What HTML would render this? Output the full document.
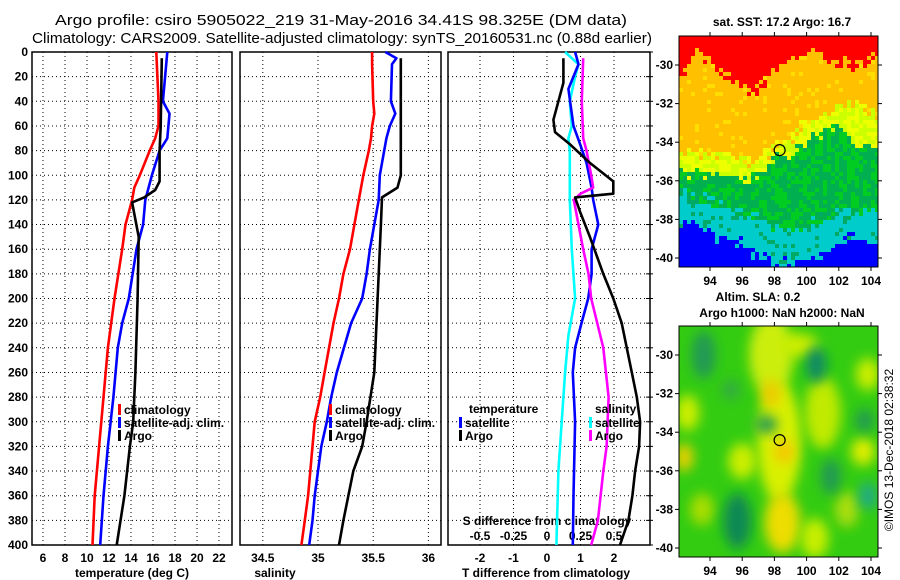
<!DOCTYPE html>
<html><head><meta charset="utf-8"><style>
html,body{margin:0;padding:0;background:#fff;}
svg{display:block;font-family:"Liberation Sans",sans-serif;}
.tk{font-size:12px;font-weight:bold;}
.lg{font-size:12px;font-weight:bold;}
</style></head><body>
<svg id="fig" width="900" height="580" viewBox="0 0 900 580" xmlns="http://www.w3.org/2000/svg">
<defs><filter id="bl" x="-50%" y="-50%" width="200%" height="200%"><feGaussianBlur stdDeviation="6"/></filter>
<clipPath id="cm2"><rect x="679" y="326" width="199" height="231"/></clipPath></defs>
<text x="55" y="25" font-size="15" textLength="572" lengthAdjust="spacingAndGlyphs">Argo profile: csiro 5905022_219 31-May-2016 34.41S 98.325E (DM data)</text>
<text x="32" y="43" font-size="15" textLength="620" lengthAdjust="spacingAndGlyphs">Climatology: CARS2009. Satellite-adjusted climatology: synTS_20160531.nc (0.88d earlier)</text>
<g id="g"></g>
</svg>
<script>
// temperature profiles (deg C)
const tDepth=[0,20,40,50,60,70,80,100,110,120,140,160,200,220,240,280,320,360,400];
const tClim=[16.3,16.4,16.5,16.5,16.5,16.2,15.7,14.8,14.3,14.1,13.5,13.2,12.5,12.2,11.9,11.5,11.1,10.7,10.5];
const tSat=[17.3,17.1,16.9,17.5,17.4,17.3,16.6,15.9,15.6,15.3,15.1,14.5,13.8,13.2,12.8,12.4,11.9,11.5,11.2];
const tArgoD=[5,60,80,105,112,118,122,150,200,260,300,320,360,400];
const tArgo=[16.8,16.7,16.6,16.6,16.2,15.2,14.1,14.7,14.6,14.4,14.2,13.9,13.4,12.7];
// salinity profiles
const sDepth=[0,5,10,40,50,60,70,80,100,120,160,180,200,220,260,280,300,320,340,360,380,400];
const sClim=[35.49,35.49,35.49,35.50,35.51,35.49,35.48,35.46,35.41,35.37,35.29,35.23,35.19,35.14,35.06,35.02,34.97,34.95,34.93,34.91,34.88,34.85];
const sSat=[35.61,35.71,35.67,35.66,35.70,35.65,35.62,35.60,35.56,35.55,35.47,35.44,35.40,35.30,35.17,35.12,35.08,35.03,35.00,34.97,34.95,34.92];
const sArgoD=[5,100,110,118,140,200,260,300,320,340,380,400];
const sArgo=[35.75,35.75,35.72,35.58,35.57,35.54,35.51,35.44,35.40,35.32,35.23,35.19];
// differences from climatology
const dTSatD=[0,10,30,60,75,90,110,120,140,160,180,200,220,240,260,300,360,400];
const dTSat=[0.84,0.94,0.64,0.79,0.99,1.18,1.33,1.38,1.53,1.33,1.33,1.23,1.03,0.84,0.77,0.84,0.79,0.77];
const dTArgoD=[5,25,40,55,65,75,90,105,115,118,130,150,180,200,220,260,280,300,320,340,360,380,400];
const dTArgo=[0.49,0.49,0.34,0.19,0.24,0.69,1.28,1.98,1.98,0.84,0.99,1.28,1.68,1.98,2.23,2.53,2.68,2.78,2.75,2.63,2.55,2.43,2.18];
const dSSatD=[0,10,20,40,60,70,80,100,120,160,200,230,260,300,340,400];
const dSSat=[0.135,0.235,0.21,0.17,0.185,0.16,0.17,0.17,0.17,0.185,0.21,0.16,0.135,0.11,0.085,0.07];
const dSArgoD=[5,40,70,80,100,110,115,120,140,160,180,200,240,280,320,340,380,400];
const dSArgo=[0.27,0.26,0.27,0.295,0.33,0.345,0.25,0.2,0.235,0.27,0.31,0.33,0.42,0.46,0.445,0.42,0.38,0.33];
const tTicks=[6,8,10,12,14,16,18,20,22];
const sTicks=[34.5,35,35.5,36];
const dTicks=[-2,-1,0,1,2];
const dsTicks=[-0.5,-0.25,0,0.25,0.5];
const dsLabels=['-0.5','-0.25','0','0.25','0.5'];
const depthTicks=[0,20,40,60,80,100,120,140,160,180,200,220,240,260,280,300,320,340,360,380,400];

const NS='http://www.w3.org/2000/svg';
const G=document.getElementById('g');
function mk(tag,at,parent){const e=document.createElementNS(NS,tag);for(const k in at)e.setAttribute(k,at[k]);(parent||G).appendChild(e);return e;}
const Y0=52,Y1=545;
const yD=d=>Y0+d*(Y1-Y0)/400;
const xT=v=>43+(v-6)*11;
const xS=v=>318+(v-35)*110.4;
const xDT=v=>547+v*33.5;
const xDS=v=>547+v*4*33.5;
const panels=[[32,232],[240,441],[448,650]];

panels.forEach((p,i)=>{
  const r=mk('rect',{x:p[0],y:Y0,width:p[1]-p[0],height:Y1-Y0,fill:'#fff',stroke:'#000','stroke-width':1.5});
  
  
  depthTicks.forEach(d=>{
    if(d>0&&d<400){const l=mk('line',{x1:p[0],x2:p[1],y1:yD(d),y2:yD(d),stroke:'#000','stroke-dasharray':'1,3','stroke-width':1});
    
    }
  });
});
depthTicks.forEach(d=>{
  const t=mk('text',{x:28,y:yD(d)+4,'text-anchor':'end',class:'tk'});t.textContent=d;
  
  
  const k=mk('line',{x1:646,x2:653,y1:yD(d),y2:yD(d),stroke:'#000'});
  
  
});
function xgrid(ticks,fx,labels,ly,nm){
  ticks.forEach((v,i)=>{const x=fx(v);
    const l=mk('line',{x1:x,x2:x,y1:Y0,y2:Y1,stroke:'#000','stroke-dasharray':'1,3'});
    
    
    const t=mk('text',{x:x,y:ly,'text-anchor':'middle',class:'tk'});t.textContent=labels?labels[i]:v;
    
    
  });
}
xgrid(tTicks,xT,null,562,'temperature');
xgrid(sTicks,xS,null,562,'salinity');
xgrid(dTicks,xDT,null,562,'t-diff');
dsTicks.forEach((v,i)=>{const t=mk('text',{x:xDS(v),y:540,'text-anchor':'middle',class:'tk'});t.textContent=dsLabels[i];
  
  });
[['temperature (deg C)',132,'x-axis-title-temperature'],['salinity',275,'x-axis-title-salinity'],['T difference from climatology',546,'x-axis-title-t-diff']].forEach(a=>{
  const t=mk('text',{x:a[1],y:577,'text-anchor':'middle',class:'tk'});t.textContent=a[0];
  
  });
{const t=mk('text',{x:547,y:525,'text-anchor':'middle',class:'tk'});t.textContent='S difference from climatology';
 
 }

function line(ds,vs,fx,col,nm){
  const pts=ds.map((d,i)=>fx(vs[i]).toFixed(1)+','+yD(d).toFixed(1)).join(' ');
  const p=mk('polyline',{points:pts,fill:'none',stroke:col,'stroke-width':2.6,'stroke-linejoin':'round'});
  
  
}
line(tDepth,tClim,xT,'#ff0000','temperature-climatology-line');
line(tDepth,tSat,xT,'#0000ff','temperature-satellite-line');
line(tArgoD,tArgo,xT,'#000','temperature-argo-line');
line(sDepth,sClim,xS,'#ff0000','salinity-climatology-line');
line(sDepth,sSat,xS,'#0000ff','salinity-satellite-line');
line(sArgoD,sArgo,xS,'#000','salinity-argo-line');
line(dSSatD,dSSat,xDS,'#00ffff','s-diff-satellite-line');
line(dTSatD,dTSat,xDT,'#0000ff','t-diff-satellite-line');
line(dSArgoD,dSArgo,xDS,'#ff00ff','s-diff-argo-line');
line(dTArgoD,dTArgo,xDT,'#000','t-diff-argo-line');

function leg(x,y,col,txt,nm){
  const r=mk('rect',{x:x,y:y-9,width:3,height:11,fill:col});
  
  
  const t=mk('text',{x:x+6,y:y+1,class:'lg'});t.textContent=txt;
  
  
}
leg(118,413,'#ff0000','climatology','legend-entry-climatology');
leg(118,426,'#0000ff','satellite-adj. clim.','legend-entry-satellite-adj');
leg(118,439,'#000','Argo','legend-entry-argo');
leg(329,413,'#ff0000','climatology','legend-entry-s-climatology');
leg(329,426,'#0000ff','satellite-adj. clim.','legend-entry-s-satellite-adj');
leg(329,439,'#000','Argo','legend-entry-s-argo');
{const t=mk('text',{x:469,y:413,class:'lg'});t.textContent='temperature';
 
 const u=mk('text',{x:595,y:413,class:'lg'});u.textContent='salinity';
 }
leg(459,426,'#0000ff','satellite','legend-entry-t-satellite');
leg(459,439,'#000','Argo','legend-entry-t-argo');
leg(589,426,'#00ffff','satellite','legend-entry-s-satellite');
leg(589,439,'#ff00ff','Argo','legend-entry-s-argo-diff');

// ---- maps ----
const MX0=679,MX1=878;
const lonX=l=>710+(l-94)*16.1;
const latY=(la,top)=>top+(65-36)+(-30-la)*19.3;
const bLon=[92.3,93,94,95,96,96.5,97,98,99,100,101,102,103,104,104.5];
const bRed=[-30.5,-29.4,-29.6,-30.6,-31.2,-31.5,-31.2,-30.3,-29.8,-29.4,-29.6,-29.8,-30.1,-29.6,-29.4];
const bOra=[-34.7,-34.7,-34.5,-34.6,-35,-35,-35,-34.3,-33.8,-33,-32.8,-31.9,-32,-32.5,-32.5];
const bYel=[-35.6,-35.6,-35.6,-35.7,-35.9,-35.9,-35.8,-34.9,-34.6,-34,-33.5,-33,-34.2,-34.2,-34.2];
const bGrn=[-36.5,-36.8,-37,-37.5,-37.8,-37.8,-37.8,-38.5,-38.5,-38.3,-38,-37.5,-37.8,-37.7,-37.7];
const bTea=[-38.3,-38.2,-38.8,-39,-39.3,-39.6,-39.9,-40.3,-40.3,-40.2,-39.8,-39.3,-38.8,-39.3,-39.3];
function interp(xs,ys,x){for(let i=0;i<xs.length-1;i++){if(x<=xs[i+1]){const f=(x-xs[i])/(xs[i+1]-xs[i]);return ys[i]+f*(ys[i+1]-ys[i]);}}return ys[ys.length-1];}
function hsh(i,j){let h=(i*374761393+j*668265263)>>>0;h=((h^(h>>>13))*1274126177)>>>0;return (h%1000)/1000;}
const mapG=mk('g',{});


const cs=4;
for(let i=0;i*cs<MX1-MX0;i++){
  for(let j=0;j*cs<231;j++){
    const px=MX0+i*cs+2, py=36+j*cs+2;
    const lon=94+(px-710)/16.1, lat=-30-(py-65)/19.3;
    const n=(hsh(i,j)-0.5)*0.7;
    const L=lat+n;
    let c;
    if(L>interp(bLon,bRed,lon))c='#ff0000';
    else if(L>interp(bLon,bOra,lon))c=(hsh(j,i)>0.9?'#ffdd00':'#ffc000');
    else if(L>interp(bLon,bYel,lon))c=(hsh(j,i)>0.5?'#ccff00':'#eeff00');
    else if(L>interp(bLon,bGrn,lon))c=(hsh(j,i)>0.45?'#00b050':'#00cc22');
    else if(L>interp(bLon,bTea,lon))c=(hsh(j,i)>0.85?'#00aa66':'#00cccc');
    else c='#0000ff';
    const w=Math.min(cs,MX1-(MX0+i*cs)),h=Math.min(cs,267-(36+j*cs));
    mk('rect',{x:MX0+i*cs,y:36+j*cs,width:w,height:h,fill:c},mapG);
  }
}
// SLA map
const sla=mk('g',{'clip-path':'url(#cm2)'});


mk('rect',{x:MX0,y:326,width:199,height:231,fill:'#33cc11'},sla);
const blobs=[[97.8,-30,22,40,'#ccee11'],[98.3,-34.5,22,60,'#d8f000'],[98.5,-38.7,18,30,'#eedd00'],[97.8,-32,10,14,'#eecc00'],[98.6,-35,10,12,'#f5c800'],
[92.6,-33,12,18,'#ccee00'],[92.4,-35.3,9,14,'#eed000'],[103.8,-31,12,16,'#ccee00'],[103.5,-35,12,14,'#e0ee00'],[101,-33,18,36,'#c0ea00'],
[96,-35.5,14,18,'#ccee00'],[100.5,-39.5,14,20,'#c8ee00'],[93.5,-38,12,16,'#aadd00'],[99.5,-29.5,20,12,'#ccee00'],[102.5,-38,12,18,'#aadd11'],
[93.6,-30,12,24,'#229955'],[95.7,-38.6,14,28,'#118855'],[100.6,-30.5,10,18,'#118866'],[101.5,-36.3,10,18,'#229955'],[103.8,-37.3,9,14,'#22aa88'],[103.6,-33.4,9,12,'#229955'],[97.5,-33.6,11,9,'#229955'],[95.3,-31.8,9,10,'#33aa44']];
blobs.forEach(b=>{const e=mk('ellipse',{cx:lonX(b[0]),cy:latY(b[1],326),rx:b[2],ry:b[3],fill:b[4],filter:'url(#bl)'},sla);
  
  });
[36,326].forEach((top,k)=>{
  const r=mk('rect',{x:MX0,y:top,width:MX1-MX0,height:231,fill:'none',stroke:'#000','stroke-width':1});
  
  
  const c=mk('circle',{cx:lonX(98.325),cy:latY(-34.41,top),r:5.5,fill:'none',stroke:'#000','stroke-width':1.2});
  
  
  [-30,-32,-34,-36,-38,-40].forEach(la=>{const y=latY(la,top);
    mk('line',{x1:MX0-4,x2:MX0,y1:y,y2:y,stroke:'#000'});mk('line',{x1:MX1,x2:MX1+4,y1:y,y2:y,stroke:'#000'});
    const t=mk('text',{x:673,y:y+4,'text-anchor':'end',class:'tk'});t.textContent=la;
    });
  [94,96,98,100,102,104].forEach(lo=>{const x=lonX(lo);
    mk('line',{x1:x,x2:x,y1:top+231,y2:top+235,stroke:'#000'});mk('line',{x1:x,x2:x,y1:top-4,y2:top,stroke:'#000'});
    const t=mk('text',{x:x,y:top+249,'text-anchor':'middle',class:'tk'});t.textContent=lo;
    });
});
[['sat. SST: 17.2 Argo: 16.7',782,26,'sst-map-title'],['Altim. SLA: 0.2',758,301,'sla-map-title'],['Argo h1000: NaN h2000: NaN',782,317,'sla-map-subtitle']].forEach(a=>{
  const t=mk('text',{x:a[1],y:a[2],'text-anchor':'middle',class:'tk'});t.textContent=a[0];
  });
{const t=mk('text',{x:0,y:0,transform:'translate(893,450) rotate(-90)','text-anchor':'middle','font-size':'12'});t.textContent='©IMOS 13-Dec-2018 02:38:32';
 }
</script>
</body></html>
